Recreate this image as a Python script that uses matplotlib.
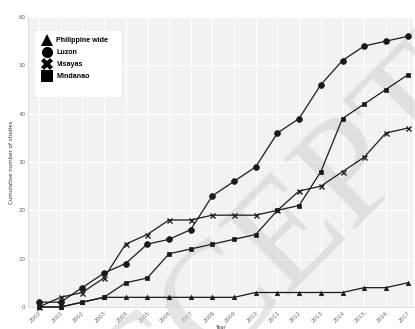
import matplotlib.pyplot as plt
from matplotlib.patches import Rectangle
import numpy as np

years = np.arange(2000, 2018)

philippine_wide = [0, 0, 1, 2, 2, 2, 2, 2, 2, 2, 3, 3, 3, 3, 3, 4, 4, 5]
luzon = [1, 1, 4, 7, 9, 13, 14, 16, 23, 26, 29, 36, 39, 46, 51, 54, 55, 56]
visayas = [0, 2, 3, 6, 13, 15, 18, 18, 19, 19, 19, 20, 24, 25, 28, 31, 36, 37]
mindanao = [0, 0, 1, 2, 5, 6, 11, 12, 13, 14, 15, 20, 21, 28, 39, 42, 45, 48]

series = [
    ('Philippine wide', philippine_wide, '^', 3.2),
    ('Luzon', luzon, 'o', 4.2),
    ('Visayas', visayas, 'x', 3.6),
    ('Mindanao', mindanao, 's', 3.4),
]
legend_markers = {'^': '^', 'o': 'o', 'x': 'X', 's': 's'}

fig = plt.figure(figsize=(4.15, 3.29), dpi=100)
ax = fig.add_axes([28 / 415, 22 / 329, 385 / 415, 290 / 329])
ax.set_facecolor('#F2F2F2')

line_col = '#1a1a1a'
handles = []
for name, vals, mk, ms in series:
    ax.plot(years, vals, color=line_col, lw=0.9, marker=mk, markersize=ms,
            markeredgewidth=1.0 if mk == 'x' else 0.5, zorder=3, clip_on=False)
    h, = ax.plot([], [], ls='none', marker=legend_markers[mk], markersize=8,
                 color='black', markeredgewidth=0)
    h.set_label(name)
    handles.append(h)

ax.set_xlim(1999.5, 2017.25)
ax.set_ylim(0, 60)
ax.set_xticks(years)
ax.set_xticklabels([str(y) for y in years], rotation=45, ha='right',
                   rotation_mode='anchor')
ax.set_yticks(np.arange(0, 61, 10))
ax.tick_params(axis='both', labelsize=4, colors='#666666', length=0, pad=2)
ax.grid(True, color='white', lw=0.8, zorder=0)
ax.set_axisbelow(True)
for side in ['top', 'right']:
    ax.spines[side].set_visible(False)
for side in ['left', 'bottom']:
    ax.spines[side].set_color('#D3D8E2')
    ax.spines[side].set_linewidth(0.6)

ax.set_xlabel('Year', fontsize=3.5, color='#333333', labelpad=1)
ax.set_ylabel('Cumulative number of studies', fontsize=4, color='#333333',
              labelpad=3)

# white legend panel, a bit taller than the entries
ax.add_patch(Rectangle((7 / 385, 210 / 290), 86 / 385, 66 / 290,
                       transform=ax.transAxes, facecolor='white',
                       edgecolor='none', zorder=4))
leg = ax.legend(handles=handles, loc='upper left',
                bbox_to_anchor=(15 / 385, 1 - 20 / 290), frameon=False,
                prop={'family': 'Liberation Sans', 'weight': 'bold', 'size': 5.1},
                handlelength=1.0, handletextpad=0.9, labelspacing=0.72,
                borderpad=0, borderaxespad=0)
leg.set_zorder(5)

# diagonal watermark behind the data lines
ax.text(0.764, 0.347, 'ACCEPTED', transform=fig.transFigure, rotation=45,
        ha='center', va='center', fontsize=110, family='Liberation Serif',
        color='#D0D0D0', alpha=0.55, zorder=1.5, clip_on=False)

fig.savefig('out.png', dpi=100)
